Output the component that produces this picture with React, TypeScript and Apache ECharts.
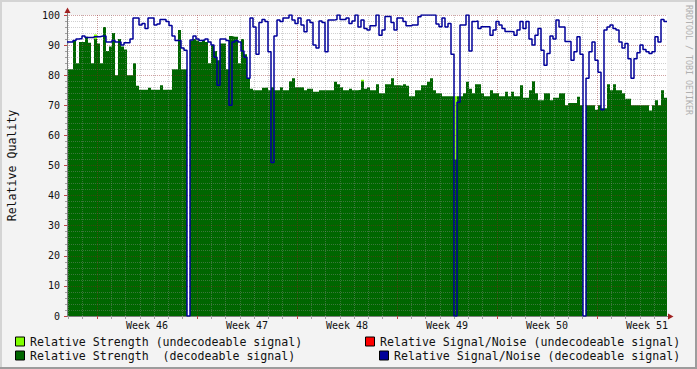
import React, { useEffect, useRef } from "react";
import * as echarts from "echarts";

// Time axis in days relative to Monday 00:00 of Week 46; one RRD sample every 0.21 day
const START_DAY = -2.1;
const STEP_DAYS = 0.21;
const END_DAY = 39.9;

const WEEK_NUMBERS = [46, 47, 48, 49, 50, 51];
const WEEK_STARTS = [0, 7, 14, 21, 28, 35];
const WEEK_LABEL_POS = [3.5, 10.5, 17.5, 24.5, 31.5, 38.5];
const DAY_TICKS = [-2, -1, 1, 2, 3, 4, 5, 6, 8, 9, 10, 11, 12, 13, 15, 16, 17, 18, 19, 20, 22, 23, 24, 25, 26, 27, 29, 30, 31, 32, 33, 34, 36, 37, 38, 39];

// Relative Strength (decodeable signal)
const strengthDecodeable = [
  82, 82, 91.5, 84, 91, 91, 92.8, 90.8, 84, 92,
  90.5, 84, 96, 88, 89.5, 94, 80, 92, 89.5, 88.5,
  80, 80, 84, 76.5, 75.2, 75.2, 75.2, 75.8, 75.2, 75.2,
  75.2, 76.7, 75.2, 75.2, 75.2, 82, 82, 95, 82, 82,
  0, 91.5, 92, 91.5, 91, 91.5, 91, 84, 90, 88,
  85, 90.5, 90.5, 82, 93, 92.8, 92.8, 84, 92, 87,
  79, 75.5, 75, 75, 75, 75.8, 75.9, 75, 76, 75,
  75, 76, 75, 75, 78, 79, 76, 76, 76, 75,
  75.5, 75.5, 74.5, 74.5, 75, 75, 75, 75, 75, 77.8,
  77, 76, 75, 75, 75.5, 75, 75, 75.2, 78, 75.5,
  76, 75, 75, 77, 74, 74, 77, 77, 79, 76.7,
  76.7, 76.5, 77, 76.5, 73, 73, 75, 75, 76.7, 76.7,
  77.8, 79, 75, 74, 74, 73, 73, 73, 73, 52,
  73, 73, 74, 77.8, 75.5, 74, 77, 77, 74, 73,
  73, 75, 74, 74, 73, 73, 74.5, 73, 74.5, 73,
  73, 76.7, 72.5, 72.5, 75, 78, 74, 71.7, 71.7, 74,
  74, 71.7, 72.5, 72.5, 74, 74, 70, 70.8, 70.8, 70.8,
  72.8, 70, 0, 70, 70, 70, 68.5, 70, 69, 69,
  77, 75, 77, 75, 75, 74, 72.2, 72.2, 70, 70,
  70, 70, 70, 70, 68.3, 70, 71.7, 70, 75, 72.5,
];

// Relative Strength (undecodeable signal)
const strengthUndecodeable = [
  0, 0, 0, 0, 0, 0, 0, 0, 0, 93.5,
  0, 0, 0, 0, 0, 0, 0, 0, 0, 0,
  0, 0, 0, 0, 0, 0, 0, 0, 0, 0,
  0, 0, 0, 0, 0, 0, 0, 0, 0, 0,
  0, 0, 0, 0, 0, 0, 0, 0, 0, 0,
  0, 0, 0, 0, 0, 0, 0, 0, 0, 0,
  0, 0, 0, 0, 0, 0, 0, 0, 0, 0,
  0, 0, 0, 0, 0, 0, 0, 0, 0, 0,
  0, 0, 0, 0, 0, 0, 0, 0, 0, 0,
  0, 0, 0, 0, 0, 0, 0, 0, 78.5, 0,
  0, 0, 0, 0, 0, 0, 0, 0, 0, 0,
  0, 0, 0, 0, 0, 0, 0, 0, 0, 0,
  0, 0, 0, 0, 0, 0, 0, 0, 0, 73,
  0, 0, 0, 0, 0, 0, 0, 0, 0, 0,
  0, 0, 0, 0, 0, 0, 0, 0, 0, 0,
  0, 0, 0, 0, 0, 0, 0, 0, 0, 0,
  0, 0, 0, 0, 0, 0, 0, 0, 0, 0,
  0, 0, 0, 0, 0, 0, 0, 0, 0, 0,
  0, 0, 0, 0, 0, 0, 0, 0, 0, 0,
  0, 0, 0, 0, 0, 0, 0, 0, 0, 0,
];

// Relative Signal/Noise (decodeable signal)
const snrDecodeable = [
  91, 91, 91.5, 92, 92.2, 93, 92.5, 92.5, 92.5, 92.8,
  92.8, 93, 93, 91, 91, 91.5, 91, 91, 90, 90.8,
  90.8, 92, 99, 99, 96.7, 97.2, 95.5, 99, 99, 96.7,
  97, 98.5, 98.5, 97.8, 96.5, 93, 91.5, 91.5, 89, 88.3,
  0, 91.7, 93, 92, 91.5, 91.7, 92, 91, 90, 86,
  76.7, 92, 92, 91.5, 70, 91, 91.5, 91, 88, 86,
  79, 99, 96, 87, 97.5, 98.5, 97.8, 87.8, 51, 93,
  98.3, 97.8, 99, 99, 100, 98.3, 97.2, 99, 96.7, 94.4,
  98.3, 97.5, 90, 89, 98, 97.5, 87.8, 98.3, 98.3, 98.5,
  100, 98.5, 98.5, 99, 97.2, 98, 100, 96, 98.3, 95.5,
  95, 96.4, 96.4, 100, 93.3, 95, 99.5, 99.5, 97.5, 95,
  99, 99, 97.8, 96.4, 96.4, 96.7, 96.7, 99.4, 100, 100,
  100, 100, 100, 97, 96.1, 99, 96, 97.2, 87, 0,
  71, 96.7, 96.7, 100, 88, 97.8, 98, 95.5, 96.1, 96.1,
  96.1, 93.3, 95, 97.8, 96.7, 95.5, 94.5, 94.5, 94.4, 93.3,
  95, 97.8, 95.5, 97.8, 92, 90, 93.3, 95.5, 88.3, 83.3,
  87.2, 93, 92, 98.3, 96, 96, 91.2, 91.2, 85, 87.8,
  92.8, 87, 0, 79, 87.8, 91, 85, 81, 68.5, 95,
  96, 96.7, 95.5, 95, 91, 89, 90.5, 85.5, 79, 85.5,
  87.5, 90, 88.5, 87.8, 87.2, 87.8, 92.8, 91, 98.5, 97.8,
];

const LEGEND_ITEMS = [
  { label: "Relative Strength (undecodeable signal)", color: "#80ff00" },
  { label: "Relative Strength  (decodeable signal)", color: "#006600" },
  { label: "Relative Signal/Noise (undecodeable signal)", color: "#ff0000" },
  { label: "Relative Signal/Noise (decodeable signal)", color: "#000099" },
];

const MONO = "DejaVu Sans Mono";
const MINOR_GRID = "rgba(140,140,140,0.42)";
const MAJOR_GRID = "rgba(140,30,30,0.42)";
const AXIS_COLOR = "#808080";
const ARROW_COLOR = "#a02020";

function toPairs(values: number[]) {
  const pts: [number, number][] = values.map((v, i) => [START_DAY + i * STEP_DAYS, v]);
  pts.push([END_DAY, values[values.length - 1]]);
  return pts;
}

function legendGraphic() {
  const els: any[] = [];
  const pos = [
    { bx: 15, by: 336.5, tx: 30 },
    { bx: 15, by: 350.5, tx: 30 },
    { bx: 365, by: 336.5, tx: 380 },
    { bx: 379, by: 350.5, tx: 394 },
  ];
  LEGEND_ITEMS.forEach((it, k) => {
    const p = pos[k];
    els.push({
      type: "rect",
      shape: { x: p.bx + 0.5, y: p.by + 0.5, width: 9, height: 9 },
      style: { fill: it.color, stroke: "#000", lineWidth: 1 },
      silent: true,
    });
    els.push({
      type: "text",
      x: p.tx,
      y: p.by + 5,
      style: {
        text: it.label,
        fill: "#111",
        fontFamily: MONO,
        fontSize: 11.6,
        align: "left",
        verticalAlign: "middle",
        textAlign: "left",
        textVerticalAlign: "middle",
      },
      silent: true,
    });
  });
  return els;
}

export default function App() {
  const ref = useRef<HTMLDivElement>(null);
  useEffect(() => {
    if (!ref.current) return;
    const chart = echarts.init(ref.current, null, { renderer: "svg", width: 697, height: 369 });
    const weekLabel = (v: number) => {
      const k = WEEK_LABEL_POS.findIndex((p) => Math.abs(p - v) < 1e-6);
      return k >= 0 ? `Week ${WEEK_NUMBERS[k]}` : "";
    };
    const option: any = {
      animation: false,
      backgroundColor: "#f3f3f3",
      textStyle: { fontFamily: MONO },
      grid: {
        left: 67,
        top: 15,
        width: 600,
        height: 301,
        show: true,
        backgroundColor: "#ffffff",
        borderWidth: 0,
        containLabel: false,
        outerBoundsMode: "none",
      },
      xAxis: [
        {
          type: "value",
          min: START_DAY,
          max: END_DAY,
          position: "bottom",
          z: 5,
          axisLine: { show: true, onZero: false, lineStyle: { color: AXIS_COLOR, width: 1 } },
          axisTick: { show: true, length: 3, customValues: DAY_TICKS, lineStyle: { color: "#a0a0a0" } },
          axisLabel: { show: false },
          splitLine: { show: true, lineStyle: { color: MINOR_GRID, type: "dotted", width: 1 } },
        },
        {
          type: "value",
          min: START_DAY,
          max: END_DAY,
          position: "bottom",
          z: 6,
          axisLine: { show: false, onZero: false },
          axisTick: { show: true, length: 3, customValues: WEEK_STARTS, lineStyle: { color: "#c04040" } },
          axisLabel: {
            show: true,
            customValues: WEEK_LABEL_POS,
            formatter: (v: number) => weekLabel(v),
            fontFamily: MONO,
            fontSize: 10,
            color: "#111",
            margin: 4,
          },
          splitLine: { show: true, lineStyle: { color: MAJOR_GRID, type: "dotted", width: 1 } },
        },
      ],
      yAxis: {
        type: "value",
        min: 0,
        max: 100,
        interval: 10,
        z: 5,
        axisLine: { show: true, onZero: false, lineStyle: { color: AXIS_COLOR, width: 1 } },
        axisTick: { show: true, length: 3, lineStyle: { color: "#c04040" } },
        minorTick: { show: true, splitNumber: 5, length: 2, lineStyle: { color: "#a0a0a0" } },
        axisLabel: { fontFamily: MONO, fontSize: 10, color: "#111", margin: 7 },
        splitLine: { show: true, lineStyle: { color: MAJOR_GRID, type: "dotted", width: 1 } },
        minorSplitLine: { show: true, lineStyle: { color: MINOR_GRID, type: "dotted", width: 1 } },
      },
      series: [
        {
          name: LEGEND_ITEMS[0].label,
          type: "line",
          data: toPairs(strengthUndecodeable),
          step: "end",
          symbol: "none",
          showSymbol: false,
          silent: true,
          z: 1,
          lineStyle: { width: 0, color: LEGEND_ITEMS[0].color },
          areaStyle: { color: LEGEND_ITEMS[0].color, opacity: 1 },
        },
        {
          name: LEGEND_ITEMS[1].label,
          type: "line",
          data: toPairs(strengthDecodeable),
          step: "end",
          symbol: "none",
          showSymbol: false,
          silent: true,
          z: 2,
          lineStyle: { width: 0, color: LEGEND_ITEMS[1].color },
          areaStyle: { color: LEGEND_ITEMS[1].color, opacity: 1 },
        },
        {
          name: LEGEND_ITEMS[3].label,
          type: "line",
          data: toPairs(snrDecodeable),
          step: "end",
          symbol: "none",
          showSymbol: false,
          silent: true,
          z: 8,
          lineStyle: { width: 1.5, color: LEGEND_ITEMS[3].color },
        },
      ],
      graphic: [
        // 3D frame
        { type: "rect", shape: { x: 0, y: 0, width: 697, height: 2 }, style: { fill: "#d4d4d4" }, silent: true },
        { type: "rect", shape: { x: 0, y: 0, width: 2, height: 369 }, style: { fill: "#d4d4d4" }, silent: true },
        { type: "rect", shape: { x: 0, y: 367, width: 697, height: 2 }, style: { fill: "#9c9c9c" }, silent: true },
        { type: "rect", shape: { x: 695, y: 0, width: 2, height: 369 }, style: { fill: "#9c9c9c" }, silent: true },
        // axis arrows
        { type: "line", shape: { x1: 67.5, y1: 12, x2: 67.5, y2: 16 }, style: { stroke: AXIS_COLOR, lineWidth: 1 }, silent: true },
        { type: "polygon", shape: { points: [[64.5, 13], [67.5, 7.5], [70.5, 13]] }, style: { fill: ARROW_COLOR }, silent: true },
        { type: "line", shape: { x1: 666, y1: 316.5, x2: 669, y2: 316.5 }, style: { stroke: AXIS_COLOR, lineWidth: 1 }, silent: true },
        { type: "polygon", shape: { points: [[668, 313.5], [673.5, 316.5], [668, 319.5]] }, style: { fill: ARROW_COLOR }, silent: true },
        // y axis title
        {
          type: "text",
          x: 12,
          y: 165.5,
          rotation: Math.PI / 2,
          style: {
            text: "Relative Quality",
            fill: "#111",
            fontFamily: MONO,
            fontSize: 11.6,
            align: "center",
            verticalAlign: "middle",
            textAlign: "center",
            textVerticalAlign: "middle",
          },
          silent: true,
        },
        // watermark
        {
          type: "text",
          x: 688.5,
          y: 5,
          rotation: -Math.PI / 2,
          style: {
            text: "RRDTOOL / TOBI OETIKER",
            fill: "#b0b0b0",
            fontFamily: MONO,
            fontSize: 8.3,
            align: "left",
            verticalAlign: "middle",
            textAlign: "left",
            textVerticalAlign: "middle",
          },
          silent: true,
        },
        ...legendGraphic(),
      ],
    };
    chart.setOption(option);
    return () => chart.dispose();
  }, []);
  return <div ref={ref} style={{ position: "fixed", left: 0, top: 0, width: 697, height: 369 }} />;
}
